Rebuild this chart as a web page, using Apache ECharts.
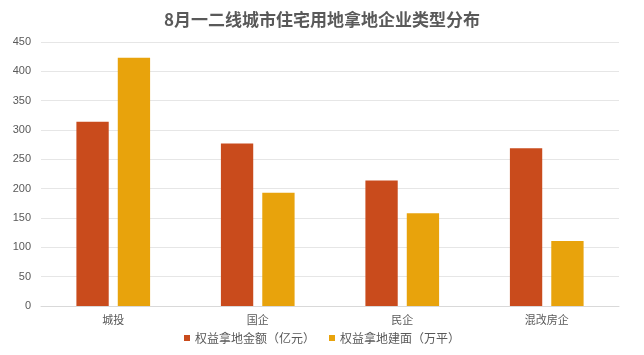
<!DOCTYPE html>
<html><head><meta charset="utf-8">
<script src="https://cdn.jsdelivr.net/npm/echarts@6/dist/echarts.min.js"></script>
<style>html,body{margin:0;padding:0;background:#fff}#c{width:644px;height:355px}</style>
</head><body><div id="c"></div>
<script>
const categories = ['城投', '国企', '民企', '混改房企'];
const amountValues = [314, 277, 214, 269];
const areaValues = [423, 193, 158, 111];
const seriesNames = ['权益拿地金额（亿元）', '权益拿地建面（万平）'];
const yTicks = [0, 50, 100, 150, 200, 250, 300, 350, 400, 450];

const chart = echarts.init(document.getElementById('c'));
chart.setOption({
  animation: false,
  backgroundColor: '#fff',
  title: {
    text: '8月一二线城市住宅用地拿地企业类型分布',
    left: 'center', top: 6,
    textStyle: {fontSize: 17, fontWeight: 'bold', color: '#595959', fontFamily: 'Noto Sans CJK SC'}
  },
  legend: {
    bottom: 6, left: 'center', itemWidth: 6, itemHeight: 6, itemGap: 14,
    icon: 'rect',
    textStyle: {fontSize: 12, color: '#595959', fontFamily: 'Noto Sans CJK SC'},
    data: seriesNames
  },
  grid: {left: 41, right: 25, top: 42, bottom: 49},
  xAxis: {
    type: 'category', data: categories,
    axisLine: {lineStyle: {color: '#d9d9d9'}},
    axisTick: {show: false},
    axisLabel: {color: '#595959', fontSize: 11, margin: 8, fontFamily: 'Noto Sans CJK SC'}
  },
  yAxis: {
    type: 'value', min: yTicks[0], max: yTicks[yTicks.length - 1], interval: 50,
    axisLine: {show: false}, axisTick: {show: false},
    axisLabel: {color: '#595959', fontSize: 11, margin: 10, fontFamily: 'Liberation Sans'},
    splitLine: {lineStyle: {color: '#e6e6e6'}}
  },
  series: [
    {name: seriesNames[0], type: 'bar', data: amountValues, barGap: '28%', barCategoryGap: '49%',
     itemStyle: {color: '#C94B1C'}},
    {name: seriesNames[1], type: 'bar', data: areaValues,
     itemStyle: {color: '#E8A30C'}}
  ]
});
</script></body></html>
